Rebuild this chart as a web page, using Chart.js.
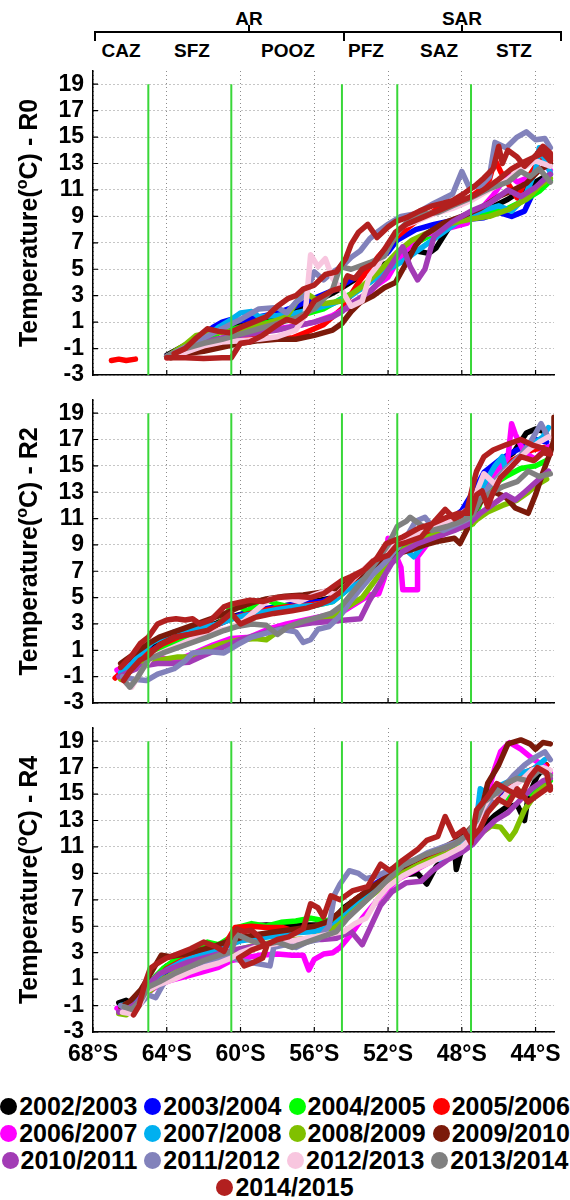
<!DOCTYPE html>
<html>
<head>
<meta charset="utf-8">
<script src="https://cdn.jsdelivr.net/npm/chart.js@4.4.1/dist/chart.umd.min.js"></script>
<style>
body{margin:0;background:#fff;font-family:"Liberation Sans",Arial,sans-serif;font-weight:bold;}
#page{position:relative;width:570px;height:1200px;overflow:hidden;}
canvas{position:absolute;left:0;}
.hl{position:absolute;background:#000;}
.zl{position:absolute;font-size:19px;line-height:19px;transform:translate(-50%,-50%);white-space:nowrap;}
#legend{position:absolute;left:0;top:1093px;width:570px;}
.lrow{display:flex;justify-content:center;height:27px;align-items:center;}
.litem{display:flex;align-items:center;margin:0 3.5px;font-size:25px;line-height:27px;}
.dot{width:17px;height:17px;border-radius:50%;margin-right:2px;}
</style>
</head>
<body>
<div id="page">
  <div class="zl" style="left:249px;top:18px">AR</div>
  <div class="zl" style="left:462px;top:18px">SAR</div>
  <div class="hl" style="left:94px;top:31px;width:468px;height:2px"></div>
  <div class="hl" style="left:94px;top:31px;width:2px;height:10px"></div>
  <div class="hl" style="left:343px;top:31px;width:2px;height:10px"></div>
  <div class="hl" style="left:560px;top:31px;width:2px;height:10px"></div>
  <div class="hl" style="left:248px;top:25px;width:2px;height:7px"></div>
  <div class="hl" style="left:461px;top:25px;width:2px;height:7px"></div>
  <div class="zl" style="left:121px;top:50px">CAZ</div>
  <div class="zl" style="left:192px;top:50px">SFZ</div>
  <div class="zl" style="left:288px;top:50px">POOZ</div>
  <div class="zl" style="left:366px;top:50px">PFZ</div>
  <div class="zl" style="left:439px;top:50px">SAZ</div>
  <div class="zl" style="left:514px;top:50px">STZ</div>

  <canvas id="c0" width="570" height="352" style="top:47px"></canvas>
  <canvas id="c2" width="570" height="351" style="top:376px"></canvas>
  <canvas id="c4" width="570" height="365" style="top:704px"></canvas>
  <div id="legend"></div>
</div>
<script>
const years = ["2002/2003","2003/2004","2004/2005","2005/2006","2006/2007","2007/2008","2008/2009",
"2009/2010","2010/2011","2011/2012","2012/2013","2013/2014","2014/2015"];
const colors = ["#000000","#0000ff","#00ff00","#ff0000","#ff00ff","#00b0f0","#80c000",
"#7b1a0a","#a23bb5","#8282bb","#f8c6df","#808080","#b2201f"];
const zoneLats = [65.0, 60.5, 54.5, 51.5, 47.5];
const xTicks = [44,48,52,56,60,64,68];
const yTicks = [-3,-1,1,3,5,7,9,11,13,15,17,19];

// R0 : [latitude S, temperature]
const r0_0203 = [[64.0,-1.5],[63.2,-0.9],[62.4,-0.3],[61.8,0.3],[61.0,0.6],[60.2,0.8],[59.0,1.2],[58.0,1.5],[57.0,1.8],[56.0,2.5],[55.0,3.2],[54.5,3.6],[53.5,4.5],[52.5,5.2],[51.5,5.8],[50.5,6.4],[49.8,6.2],[49.4,6.6],[48.5,8.6],[47.5,9.0],[46.5,9.6],[45.5,10.3],[44.5,11.2],[43.5,12.0]];
const r0_0304 = [[64.0,-1.6],[63.0,-0.8],[62.2,-0.1],[61.5,0.6],[61.0,1.0],[60.5,1.2],[60.0,1.1],[59.0,1.4],[58.0,1.7],[57.0,2.2],[56.0,2.8],[55.0,3.4],[54.0,4.2],[53.0,5.0],[52.0,6.3],[51.5,7.2],[50.5,8.0],[49.5,8.4],[48.5,8.7],[47.5,8.8],[46.8,8.9],[46.0,9.3],[45.3,9.0],[44.6,9.4],[44.2,10.6],[43.7,11.6],[43.2,12.2]];
const r0_0405 = [[63.9,-1.6],[63.2,-1.2],[62.5,-0.6],[61.8,-0.2],[61.0,0.3],[60.3,0.5],[59.5,0.8],[58.5,1.0],[57.5,1.3],[56.5,1.6],[55.5,2.0],[54.5,2.8],[53.5,3.5],[52.5,4.5],[51.8,5.4],[51.2,6.4],[50.5,7.0],[49.5,7.7],[48.5,8.3],[47.5,8.9],[46.5,9.3],[45.5,9.6],[44.5,10.3],[43.8,10.9],[43.2,11.7]];
const r0_0506 = [[67.0,-1.9],[66.6,-1.8],[66.2,-1.9],[65.7,-1.8],[65.5,null],[64.0,-1.7],[63.0,-1.3],[62.0,-1.0],[61.0,-0.6],[60.0,-0.3],[59.0,-0.2],[58.0,-0.2],[57.2,-0.2],[56.5,0.2],[55.5,0.8],[54.5,2.0],[53.5,4.2],[52.5,6.0],[51.5,7.5],[50.5,8.6],[49.5,9.4],[49.0,9.9],[48.0,10.0],[47.2,10.8],[46.5,11.8],[46.2,13.3],[45.9,12.4],[45.5,11.5],[45.0,10.4],[44.6,11.5],[44.0,12.8],[43.5,13.5],[43.2,13.2]];
const r0_0607 = [[64.0,-1.6],[63.0,-1.2],[62.0,-0.7],[61.0,-0.2],[60.0,0.0],[59.0,0.3],[58.0,0.5],[57.0,0.7],[56.0,1.0],[55.0,1.5],[54.3,2.0],[53.6,2.4],[53.2,3.0],[52.6,3.8],[52.0,4.4],[51.5,5.6],[50.8,6.8],[50.0,7.6],[49.0,8.0],[48.2,8.3],[47.7,8.5],[47.0,9.5],[46.3,10.6],[45.5,12.2],[45.0,11.6],[44.3,12.0],[43.5,12.8],[43.2,12.5]];
const r0_0708 = [[64.0,-1.6],[63.0,-1.0],[62.0,-0.3],[61.2,0.6],[60.5,1.2],[60.0,1.7],[59.4,1.8],[59.0,1.4],[58.0,1.5],[57.0,1.7],[56.0,2.0],[55.0,2.4],[54.0,3.0],[53.0,4.0],[52.0,5.0],[51.2,5.6],[50.5,6.3],[49.8,7.0],[49.0,7.8],[48.0,8.8],[47.0,9.4],[46.0,9.8],[45.3,9.4],[44.6,10.4],[44.0,12.5],[43.8,14.2],[43.4,13.0],[43.2,12.3]];
const r0_0809 = [[64.0,-1.6],[63.0,-0.7],[62.4,0.0],[61.5,0.2],[60.5,0.3],[59.5,0.6],[58.5,0.9],[57.5,1.4],[56.6,3.3],[56.0,2.8],[55.5,2.4],[54.5,2.6],[53.5,3.6],[52.5,4.8],[51.5,6.3],[50.7,7.2],[49.5,8.0],[48.5,8.5],[47.5,8.8],[46.5,9.0],[45.5,9.5],[44.5,10.3],[43.8,11.3],[43.2,11.9]];
const r0_0910 = [[63.8,-1.7],[63.0,-1.4],[62.0,-1.2],[61.0,-0.9],[60.0,-0.6],[59.0,-0.4],[58.0,-0.3],[57.0,-0.3],[56.0,0.0],[55.0,0.4],[54.5,0.9],[54.0,1.8],[53.5,2.5],[52.8,3.0],[52.2,3.6],[51.6,4.0],[51.0,5.5],[50.5,6.8],[50.0,7.6],[49.0,8.5],[48.0,9.0],[47.0,9.6],[46.0,10.5],[45.2,11.0],[44.5,11.5],[43.8,12.5],[43.2,13.0]];
const r0_1011 = [[64.0,-1.6],[63.0,-1.0],[62.0,-0.5],[61.0,-0.2],[60.0,0.0],[59.0,0.2],[58.0,0.4],[57.0,0.7],[56.0,1.0],[55.0,1.4],[54.5,1.8],[53.8,2.6],[53.0,3.3],[52.3,4.3],[51.6,5.8],[51.2,6.7],[50.8,5.2],[50.4,4.2],[50.0,5.0],[49.5,7.5],[48.5,8.6],[47.5,9.4],[46.5,10.0],[45.5,11.0],[44.8,10.5],[44.0,11.2],[43.2,12.2]];
const r0_1112 = [[64.0,-1.6],[63.0,-0.9],[62.0,-0.2],[61.0,0.5],[60.0,1.2],[59.0,2.0],[58.0,2.1],[57.5,1.7],[57.0,2.5],[56.5,3.0],[56.0,4.8],[55.5,4.2],[55.0,4.8],[54.5,5.2],[54.0,5.9],[53.5,6.4],[53.0,7.3],[52.5,7.9],[52.0,8.4],[51.3,9.0],[50.5,9.2],[49.5,10.0],[48.5,10.7],[48.0,12.4],[47.6,11.2],[47.0,11.3],[46.5,12.0],[46.2,14.6],[45.6,14.2],[45.0,15.0],[44.5,15.4],[44.0,14.8],[43.5,14.9],[43.2,14.2]];
const r0_1213 = [[64.0,-1.7],[63.0,-1.3],[62.0,-0.8],[61.0,-0.5],[60.0,-0.4],[59.0,-0.3],[58.0,-0.1],[57.0,0.4],[56.5,1.5],[56.2,6.1],[55.8,5.2],[55.4,5.8],[55.0,4.3],[54.5,3.4],[54.0,2.2],[53.4,2.6],[53.0,4.5],[52.5,5.4],[52.0,6.8],[51.3,8.2],[50.5,8.6],[49.5,9.2],[48.5,9.6],[47.5,10.2],[46.5,11.0],[45.5,11.8],[44.8,12.6],[44.0,13.2],[43.2,12.8]];
const r0_1314 = [[64.0,-1.6],[63.0,-1.0],[62.0,-0.6],[61.0,-0.3],[60.0,0.1],[59.0,0.5],[58.0,0.9],[57.0,1.3],[56.0,2.0],[55.0,3.5],[54.6,5.2],[54.0,5.0],[53.0,5.5],[52.2,6.0],[51.5,7.8],[50.8,8.8],[50.0,9.2],[49.3,9.3],[48.5,9.8],[47.5,10.4],[46.5,11.1],[45.5,11.6],[44.8,12.4],[44.3,12.0],[43.8,12.6],[43.2,11.6]];
const r0_1415 = [[64.0,-1.7],[63.0,-1.7],[62.0,-1.75],[61.0,-1.7],[60.5,-1.7],[60.0,-0.6],[59.5,-0.5],[58.8,0.0],[58.0,0.8],[57.5,1.2],[57.0,1.0],[56.5,1.5],[56.0,2.6],[55.5,3.0],[55.0,3.4],[54.5,3.6],[54.2,4.5],[53.8,4.3],[53.4,5.0],[52.8,5.4],[52.2,6.5],[51.6,7.8],[51.0,8.4],[50.0,9.0],[49.0,9.6],[48.0,10.2],[47.3,10.6],[46.6,11.2],[46.0,11.8],[45.3,12.6],[44.8,13.0],[44.2,13.4],[43.6,13.8],[43.2,13.2],
  [43.2,13.8],[43.6,14.3],[44.0,13.6],[44.6,12.8],[45.0,13.5],[45.5,14.0],[45.8,13.0],[46.0,14.3],[46.3,12.6],[46.8,11.9],[47.3,11.3],[47.8,10.8],[48.5,10.2],[49.0,10.0],[49.6,9.8],[50.3,9.4],[51.0,8.9],[51.6,8.6],[52.0,8.2],[52.6,7.4],[53.1,8.4],[53.6,7.8],[54.0,6.9],[54.3,5.8],[54.8,4.8],[55.4,4.6],[56.0,3.8],[56.6,3.5],[57.0,3.0],[57.4,2.8],[58.0,2.2],[58.6,1.4],[59.3,1.0],[60.0,0.6],[60.6,0.2],[61.2,0.3],[61.8,0.5],[62.4,-0.2],[63.0,-1.0],[63.6,-1.4]];

// R2
const r2_0203 = [[66.6,-0.6],[66.2,-0.1],[65.6,0.6],[65.0,1.2],[64.4,1.8],[63.8,2.1],[63.0,2.4],[62.2,2.7],[61.4,3.0],[60.6,3.5],[59.8,3.8],[59.0,4.0],[58.0,4.3],[57.0,4.5],[56.0,4.7],[55.0,5.0],[54.2,5.8],[53.4,6.8],[52.6,7.8],[51.8,8.8],[51.0,9.5],[50.0,10.2],[49.0,10.7],[48.0,11.2],[47.3,12.0],[46.8,14.0],[46.0,15.2],[45.2,16.0],[44.5,17.5],[44.0,17.8],[43.5,17.6]];
const r2_0304 = [[66.5,-0.9],[66.0,-0.3],[65.3,0.5],[64.6,1.2],[63.8,1.8],[63.0,2.2],[62.0,2.6],[61.0,3.1],[60.2,3.6],[59.4,4.0],[58.5,4.2],[57.5,4.4],[56.5,4.6],[55.6,4.7],[54.8,5.1],[54.0,6.0],[53.2,6.9],[52.4,7.9],[51.6,8.7],[50.8,9.4],[49.8,10.0],[48.8,10.7],[48.0,11.6],[47.7,12.3],[47.3,13.2],[46.8,14.5],[46.0,15.4],[45.3,16.0],[44.6,16.5],[44.0,17.0],[43.4,16.8]];
const r2_0405 = [[66.5,-1.0],[66.0,-0.4],[65.3,0.3],[64.6,0.9],[63.8,1.4],[63.0,1.8],[62.2,2.2],[61.4,2.8],[60.8,3.5],[60.5,4.5],[60.2,4.4],[59.6,4.0],[59.1,4.6],[58.5,4.8],[58.0,4.5],[57.0,4.2],[56.0,4.4],[55.0,4.7],[54.3,5.5],[53.5,6.4],[52.7,7.5],[51.8,8.6],[51.0,9.2],[50.0,9.8],[49.0,10.3],[48.0,10.8],[47.4,10.6],[47.0,12.2],[46.4,13.5],[45.6,14.2],[44.8,14.8],[44.0,15.0],[43.4,15.4]];
const r2_0506 = [[66.8,-1.1],[66.4,-0.6],[65.8,0.0],[65.0,0.8],[64.2,1.5],[63.4,2.0],[62.5,2.4],[61.5,2.8],[60.5,3.4],[59.5,3.8],[58.5,4.1],[57.5,4.3],[56.5,4.4],[55.5,4.6],[54.6,5.4],[53.8,6.4],[53.0,7.2],[52.2,8.3],[51.4,9.0],[50.6,9.6],[49.6,10.2],[48.6,10.8],[47.8,11.3],[47.2,12.8],[46.6,14.2],[45.8,15.0],[45.0,15.6],[44.2,16.2],[43.5,16.4]];
const r2_0607 = [[66.7,-0.5],[66.2,-0.2],[65.5,0.1],[64.5,0.5],[63.5,0.2],[62.5,0.8],[61.5,1.4],[60.5,1.9],[59.5,2.0],[58.5,2.6],[57.5,3.0],[56.5,3.3],[55.5,3.6],[54.5,3.9],[53.8,4.5],[53.0,5.2],[52.5,5.3],[52.2,6.5],[52.0,9.5],[51.7,8.6],[51.3,7.3],[51.2,5.6],[50.4,5.6],[50.4,8.1],[49.8,9.2],[49.0,9.8],[48.0,10.5],[47.3,11.8],[46.8,13.5],[46.0,14.8],[45.5,15.6],[45.3,18.2],[45.1,17.4],[44.6,16.0],[44.0,15.5],[43.5,16.3],[43.2,16.5]];
const r2_0708 = [[66.5,-0.7],[66.0,-0.2],[65.4,0.8],[64.8,1.6],[64.2,2.0],[63.6,2.4],[62.8,2.6],[62.0,2.8],[61.2,3.0],[60.4,3.4],[59.6,3.7],[58.8,3.9],[58.0,4.1],[57.0,4.3],[56.0,4.4],[55.0,4.7],[54.2,5.6],[53.4,6.3],[52.6,7.3],[51.8,8.3],[51.0,8.6],[50.6,8.1],[50.0,9.2],[49.0,10.0],[48.0,10.6],[47.4,11.8],[46.8,13.6],[46.2,15.0],[45.8,15.7],[45.6,14.6],[45.0,15.4],[44.2,16.6],[43.6,17.2],[43.3,17.9]];
const r2_0809 = [[66.5,-1.2],[66.0,-0.6],[65.2,0.0],[64.2,0.3],[63.4,0.5],[62.7,0.5],[62.0,1.0],[61.0,1.5],[60.0,1.8],[59.2,1.9],[58.6,1.8],[58.0,2.4],[57.0,2.9],[56.0,3.3],[55.0,3.6],[54.2,4.3],[53.4,5.0],[52.6,6.5],[52.0,7.8],[51.2,8.6],[50.4,9.3],[49.4,9.8],[48.4,10.2],[47.6,10.4],[47.2,10.9],[46.6,11.5],[45.8,12.0],[45.0,12.4],[44.4,13.0],[44.0,13.5],[43.4,14.0]];
const r2_0910 = [[66.5,0.0],[66.2,0.3],[65.6,0.9],[65.0,1.5],[64.4,2.0],[63.6,2.4],[62.8,2.8],[62.0,3.2],[61.0,3.7],[60.2,4.2],[59.4,4.6],[58.6,4.9],[57.6,5.1],[56.6,5.2],[55.6,5.4],[54.8,5.7],[54.0,6.3],[53.2,7.0],[52.4,7.8],[51.6,8.3],[50.8,8.6],[50.0,9.0],[49.2,9.3],[48.4,9.5],[48.1,9.1],[47.6,10.5],[47.2,11.8],[46.8,12.6],[46.2,13.0],[45.6,12.6],[45.1,11.8],[44.4,11.4],[44.0,12.8],[43.6,14.5],[43.2,16.0],[43.0,17.0],[43.0,18.7]];
const r2_1011 = [[66.6,-1.0],[66.0,-0.6],[65.3,-0.2],[64.5,0.0],[63.8,0.0],[62.8,0.1],[62.0,0.6],[61.0,1.2],[60.0,1.8],[59.0,2.2],[58.0,2.6],[57.0,2.9],[56.0,3.1],[55.0,3.2],[54.3,3.3],[53.5,3.4],[53.0,4.8],[52.4,6.2],[51.8,7.6],[51.2,8.5],[50.4,9.1],[49.4,9.6],[48.4,10.1],[47.6,10.6],[47.0,11.4],[46.4,12.0],[45.6,12.8],[45.1,12.4],[44.6,13.0],[43.8,14.0],[43.3,14.6]];
const r2_1112 = [[66.4,-1.0],[65.8,-1.2],[65.1,-1.3],[64.5,-0.8],[63.6,-0.4],[63.0,0.2],[62.6,0.8],[61.8,0.9],[60.9,0.8],[60.2,1.4],[59.4,2.0],[58.6,2.3],[57.8,2.6],[57.0,2.4],[56.6,1.6],[56.2,1.8],[55.8,2.6],[55.2,2.8],[54.6,3.6],[54.0,4.8],[53.4,5.8],[52.8,6.8],[52.2,7.6],[51.6,8.6],[51.0,9.6],[50.5,10.8],[50.0,11.1],[49.6,10.4],[49.0,10.1],[48.2,10.6],[47.6,11.0],[47.0,12.6],[46.4,13.6],[45.6,14.8],[44.8,15.8],[44.2,17.0],[43.7,18.2],[43.4,17.4]];
const r2_1213 = [[66.2,-1.5],[65.9,-1.8],[65.4,-0.6],[64.8,0.5],[64.0,1.0],[63.2,1.5],[62.4,2.0],[61.6,2.4],[60.8,2.6],[60.0,3.0],[59.2,4.0],[58.4,4.9],[57.6,5.0],[56.8,4.7],[56.0,5.2],[55.4,5.5],[54.8,5.2],[54.2,6.0],[53.6,6.8],[52.8,7.8],[52.0,8.6],[51.2,9.4],[50.6,9.7],[49.8,10.2],[49.0,10.6],[48.2,11.2],[47.6,11.8],[47.2,13.0],[46.8,14.4],[46.2,13.6],[45.6,14.6],[45.0,15.4],[44.4,16.2],[43.8,16.8],[43.3,17.2]];
const r2_1314 = [[66.3,-1.3],[66.0,-1.8],[65.6,-1.1],[65.0,0.3],[64.2,0.8],[63.4,1.2],[62.6,1.6],[61.8,2.0],[60.9,2.5],[60.2,2.8],[59.4,3.0],[58.6,2.9],[58.0,2.2],[57.4,2.8],[56.6,3.2],[55.8,3.5],[55.1,3.8],[54.5,4.4],[53.8,5.6],[53.2,6.6],[52.6,7.8],[52.0,9.0],[51.5,10.4],[51.0,10.8],[50.8,11.1],[50.2,10.5],[49.6,10.1],[48.8,10.4],[48.0,10.8],[47.4,11.3],[47.0,12.4],[46.4,13.0],[45.8,13.4],[45.0,13.8],[44.4,14.6],[43.8,14.2],[43.2,14.4]];
const r2_1415 = [[66.5,-0.3],[65.9,0.6],[65.45,1.5],[65.0,2.0],[64.5,3.0],[64.0,3.3],[63.5,3.4],[63.0,3.3],[62.6,3.4],[62.2,3.0],[61.6,3.3],[60.9,4.3],[60.5,4.5],[59.5,4.8],[58.8,4.7],[58.0,5.0],[57.0,5.1],[56.2,5.0],[55.5,5.3],[55.0,5.8],[54.5,6.3],[54.0,6.6],[53.3,7.1],[52.8,7.8],[52.0,8.2],[51.5,9.0],[51.0,9.2],[50.2,9.6],[49.6,10.6],[48.9,11.7],[48.4,11.0],[48.0,11.3],[47.7,11.7],[47.4,13.5],[47.2,14.6],[46.8,15.7],[46.3,16.2],[45.6,16.6],[44.8,17.0],[44.2,16.6],[43.3,16.2],
  [43.2,15.9],[43.6,16.0],[44.1,15.4],[44.8,15.7],[45.4,14.8],[45.9,14.1],[46.3,13.0],[46.6,11.9],[46.9,13.1],[47.2,12.8],[47.5,11.4],[48.2,11.4],[48.8,11.1],[49.6,10.6],[50.3,10.3],[51.2,9.6],[52.1,9.1],[52.6,8.0],[53.2,7.2],[53.9,6.5],[54.6,5.4],[55.2,4.8],[55.7,4.5],[56.4,4.2],[57.2,4.0],[58.2,3.8],[59.2,3.5],[60.0,3.0],[60.5,3.8],[61.2,3.0],[61.8,2.5],[62.8,2.2],[63.6,2.0],[64.4,1.4],[65.0,0.6],[65.45,0.25],[66.0,-0.6],[66.35,-1.3]];

// R4
const r4_0203 = [[66.6,-0.8],[66.2,-0.6],[65.7,-1.0],[65.2,-0.2],[64.6,1.2],[64.0,2.0],[63.2,2.5],[62.4,2.8],[61.6,3.2],[60.8,3.8],[60.2,4.6],[59.6,5.0],[58.6,5.1],[57.6,5.0],[56.6,5.1],[55.6,5.1],[55.0,5.5],[54.4,6.4],[53.6,7.2],[52.8,7.8],[52.0,8.4],[51.2,8.9],[50.4,9.0],[49.9,8.2],[49.4,9.5],[48.8,10.4],[48.4,11.0],[48.3,9.3],[48.0,10.8],[47.4,11.6],[46.8,12.6],[46.2,13.4],[45.6,14.0],[45.0,14.2],[44.6,13.0],[44.4,14.8],[43.9,16.4],[43.4,17.2]];
const r4_0304 = [[66.5,-1.2],[66.0,-1.0],[65.4,-0.4],[64.8,0.8],[64.0,1.6],[63.2,2.2],[62.4,2.6],[61.6,3.0],[60.8,3.5],[60.0,4.0],[59.0,4.3],[58.0,4.5],[57.0,4.7],[56.0,4.8],[55.0,5.2],[54.2,6.4],[53.4,7.4],[52.6,8.3],[51.8,9.0],[51.0,9.6],[50.2,10.0],[49.4,10.4],[48.6,10.9],[47.8,11.6],[47.2,12.6],[46.6,13.8],[46.0,15.0],[45.4,15.6],[44.8,16.2],[44.2,16.6],[43.5,17.0]];
const r4_0405 = [[66.6,-1.4],[66.2,-1.2],[65.6,-0.6],[65.0,0.6],[64.2,1.8],[63.4,2.6],[62.6,3.2],[61.8,3.8],[61.2,3.6],[60.5,4.2],[60.2,4.9],[59.4,5.2],[58.6,5.0],[57.8,5.3],[57.0,5.4],[56.2,5.6],[55.4,5.4],[54.8,5.6],[54.2,6.2],[53.4,7.0],[52.6,7.9],[51.8,8.8],[51.0,9.4],[50.2,10.0],[49.4,10.5],[48.6,11.0],[47.8,11.6],[47.2,12.8],[46.6,13.8],[46.0,14.5],[45.4,14.8],[44.8,15.2],[44.2,15.0],[43.6,15.6],[43.2,16.0]];
const r4_0506 = [[66.5,-1.3],[66.0,-1.1],[65.4,-0.6],[64.8,0.6],[64.0,1.8],[63.2,2.4],[62.4,2.8],[61.6,3.2],[60.8,3.7],[60.3,4.9],[59.4,5.0],[58.6,4.9],[57.7,4.9],[57.0,4.6],[56.2,4.8],[55.4,5.2],[54.6,6.0],[53.8,7.0],[53.0,7.8],[52.2,8.6],[51.4,9.3],[50.6,9.9],[49.8,10.4],[49.0,10.9],[48.2,11.4],[47.6,12.0],[47.0,13.2],[46.4,14.4],[45.8,15.4],[45.2,16.0],[44.6,16.6],[44.0,17.0],[43.4,17.2]];
const r4_0607 = [[66.7,-1.2],[66.2,-1.4],[65.6,-1.0],[65.0,0.0],[64.4,0.6],[63.8,0.9],[63.0,1.2],[62.2,1.5],[61.2,1.9],[60.5,2.4],[59.8,2.6],[59.0,2.8],[58.0,2.9],[57.2,2.8],[56.6,2.8],[56.3,1.7],[56.0,2.5],[55.5,2.9],[55.0,3.0],[54.6,3.4],[54.0,4.4],[53.4,5.6],[52.8,6.6],[52.2,7.6],[51.4,8.6],[50.6,9.2],[49.8,9.8],[49.0,10.4],[48.2,11.0],[47.6,11.8],[47.0,13.4],[46.6,15.0],[46.2,17.0],[45.9,18.2],[45.4,18.9],[44.8,18.4],[44.1,17.6],[43.6,17.2],[43.2,16.6]];
const r4_0708 = [[66.5,-1.0],[66.0,-0.8],[65.4,-0.2],[64.8,0.9],[64.0,1.7],[63.2,2.3],[62.4,2.7],[61.6,3.1],[60.8,3.5],[60.0,3.9],[59.0,4.1],[58.0,4.3],[57.0,4.5],[56.0,4.6],[55.0,5.0],[54.2,6.0],[53.4,7.0],[52.6,7.9],[51.8,8.6],[51.0,9.2],[50.2,9.6],[49.4,10.1],[49.0,10.0],[48.4,10.8],[47.8,11.6],[47.2,13.0],[47.0,15.4],[46.6,15.0],[46.0,15.6],[45.4,16.0],[44.8,16.6],[44.2,16.8],[43.5,17.6]];
const r4_0809 = [[66.6,-1.6],[66.2,-1.7],[65.6,-1.0],[65.0,0.0],[64.2,1.0],[63.4,1.6],[62.6,2.0],[61.8,2.4],[61.0,2.8],[60.2,3.2],[59.4,3.5],[58.6,3.7],[57.8,3.9],[57.0,4.0],[56.2,4.1],[55.4,4.4],[54.6,5.2],[53.8,6.2],[53.0,7.2],[52.2,8.1],[51.4,8.9],[50.6,9.5],[49.8,10.0],[49.0,10.4],[48.2,10.9],[47.6,11.3],[47.0,12.0],[46.4,12.6],[45.9,12.5],[45.4,11.6],[45.1,12.2],[44.6,13.8],[44.0,15.0],[43.5,15.6],[43.2,15.4]];
const r4_0910 = [[66.5,-1.1],[66.0,-0.7],[65.4,0.2],[64.8,1.6],[64.3,2.8],[63.8,2.7],[63.0,2.9],[62.2,3.2],[61.4,3.5],[60.6,3.9],[59.8,4.2],[59.0,4.4],[58.0,4.6],[57.0,4.8],[56.0,5.0],[55.2,5.4],[54.4,6.3],[53.6,7.2],[52.8,8.0],[52.0,8.8],[51.2,9.5],[50.4,10.1],[49.6,10.6],[48.8,11.1],[48.0,11.7],[47.4,12.6],[46.9,14.0],[46.6,15.8],[46.0,17.2],[45.5,18.8],[44.8,19.1],[44.3,18.8],[44.0,18.4],[43.6,18.9],[43.2,18.8]];
const r4_1011 = [[66.6,-1.5],[66.2,-1.3],[65.6,-0.8],[65.0,0.6],[64.4,1.4],[63.6,1.9],[62.8,2.3],[62.0,2.6],[61.2,2.9],[60.4,3.2],[59.6,3.4],[58.8,3.6],[58.0,3.8],[57.2,3.9],[56.4,4.0],[55.6,4.0],[54.8,4.1],[54.0,4.6],[53.4,3.6],[53.0,4.8],[52.4,6.6],[51.8,7.6],[51.0,8.3],[50.2,8.4],[49.6,9.2],[48.8,10.0],[48.0,10.6],[47.4,11.2],[46.8,12.2],[46.2,13.0],[45.5,13.6],[44.8,14.6],[44.2,15.4],[43.6,16.0],[43.2,16.2]];
const r4_1112 = [[66.5,-1.0],[66.0,-1.4],[65.5,-1.0],[65.0,-0.2],[64.6,-0.4],[64.2,0.6],[63.6,1.4],[62.8,1.8],[62.0,2.1],[61.2,2.4],[60.6,2.7],[60.0,2.4],[59.2,2.2],[58.4,2.0],[58.2,3.4],[57.6,3.6],[57.0,3.4],[56.4,3.8],[55.8,4.0],[55.2,5.0],[54.9,7.4],[54.6,8.2],[54.1,9.2],[53.6,9.0],[53.2,8.6],[52.6,8.8],[52.0,9.2],[51.4,9.6],[50.6,10.0],[49.8,10.6],[49.0,11.0],[48.2,11.4],[47.6,12.0],[47.0,13.4],[46.4,14.6],[45.8,15.4],[45.2,16.4],[44.6,17.2],[44.0,17.8],[43.5,18.2],[43.2,17.6]];
const r4_1213 = [[66.4,-1.5],[66.0,-1.6],[65.4,-0.8],[65.1,0.1],[64.4,0.6],[63.6,1.0],[62.8,1.5],[62.0,1.9],[61.2,2.2],[60.5,2.6],[60.0,3.0],[59.2,3.4],[58.4,3.6],[57.6,3.8],[56.8,4.0],[56.0,4.2],[55.2,4.4],[54.4,4.6],[53.8,5.2],[53.2,5.6],[52.6,7.0],[52.0,8.0],[51.2,8.8],[50.4,9.4],[49.6,9.9],[48.8,10.4],[48.0,11.0],[47.4,11.8],[46.9,13.8],[46.4,15.0],[45.9,14.4],[45.4,15.4],[44.8,16.0],[44.2,16.8],[43.6,17.0],[43.2,16.8]];
const r4_1314 = [[66.3,-1.1],[65.9,-1.3],[65.4,-0.6],[65.0,0.4],[64.4,0.8],[63.6,1.4],[62.8,1.9],[62.0,2.4],[61.2,2.8],[60.5,3.1],[60.2,4.4],[59.6,4.0],[58.8,3.6],[58.0,3.8],[57.2,3.4],[56.4,3.8],[55.6,4.2],[54.8,4.6],[54.2,5.6],[53.6,6.4],[53.0,7.2],[52.4,8.0],[51.8,8.8],[51.2,9.6],[50.6,10.0],[50.0,10.4],[49.2,10.8],[48.4,11.2],[47.8,11.8],[47.2,13.0],[46.8,14.4],[46.2,15.0],[45.6,15.8],[45.0,16.2],[44.4,16.0],[43.8,16.8],[43.2,16.4]];
const r4_1415 = [[65.8,-1.7],[65.5,-1.0],[65.2,0.6],[64.9,1.8],[64.5,2.2],[64.0,2.6],[63.6,2.8],[62.7,3.3],[62.0,3.8],[61.4,3.5],[60.9,3.1],[60.5,4.3],[60.2,4.8],[59.8,4.6],[59.4,4.7],[59.0,4.2],[58.6,3.4],[58.8,2.6],[59.4,2.2],[59.8,2.0],[60.1,2.6],[59.4,3.2],[58.6,3.6],[58.0,4.0],[57.4,4.2],[57.0,4.5],[56.6,4.8],[56.2,6.7],[55.8,6.4],[55.5,5.7],[55.1,7.3],[54.6,7.0],[53.9,7.7],[53.1,8.0],[52.4,9.7],[51.9,9.2],[51.2,10.0],[50.4,10.8],[49.9,11.5],[49.3,11.8],[48.9,13.3],[48.4,11.8],[47.9,12.3],[47.5,11.3],[47.2,13.8],[46.6,14.8],[46.1,15.8],[45.5,15.3],[44.8,14.8],[44.3,16.3],[43.9,17.0],[43.4,16.6],[43.2,15.3],
  [43.2,15.6],[43.8,15.0],[44.4,14.4],[45.0,15.4],[45.5,14.2],[46.0,14.6],[46.6,13.6],[47.0,12.4],[47.5,11.6]];

const r0Series = [r0_0203,r0_0304,r0_0405,r0_0506,r0_0607,r0_0708,r0_0809,r0_0910,r0_1011,r0_1112,r0_1213,r0_1314,r0_1415];
const r2Series = [r2_0203,r2_0304,r2_0405,r2_0506,r2_0607,r2_0708,r2_0809,r2_0910,r2_1011,r2_1112,r2_1213,r2_1314,r2_1415];
const r4Series = [r4_0203,r4_0304,r4_0405,r4_0506,r4_0607,r4_0708,r4_0809,r4_0910,r4_1011,r4_1112,r4_1213,r4_1314,r4_1415];

const FONT = '"Liberation Sans", Arial, sans-serif';

// rotated y title with superscript o
const yTitle = {
id:"yTitle",
afterDraw(chart, args, opts) {
  const {ctx, chartArea} = chart;
  const cy = (chartArea.top + chartArea.bottom) / 2;
  const big = "bold 25px " + FONT, small = "bold 16px " + FONT;
  const parts = [["Temperature(", big, 0], ["o", small, -10], ["C) - " + opts.text, big, 0]];
  ctx.save();
  let total = 0;
  parts.forEach(p => { ctx.font = p[1]; total += ctx.measureText(p[0]).width; });
  ctx.translate(37, cy);
  ctx.rotate(-Math.PI / 2);
  ctx.fillStyle = "#000";
  ctx.textBaseline = "alphabetic";
  let x = -total / 2;
  parts.forEach(p => { ctx.font = p[1]; ctx.fillText(p[0], x, p[2]); x += ctx.measureText(p[0]).width; });
  ctx.restore();
}
};

// small inward tick marks
const inTicks = {
id:"inTicks",
beforeDatasetsDraw(chart) {
  const {ctx, chartArea, scales} = chart;
  ctx.save();
  ctx.strokeStyle = "#000";
  ctx.lineWidth = 1.2;
  ctx.beginPath();
  xTicks.forEach(v => {
    const px = scales.x.getPixelForValue(v);
    ctx.moveTo(px, chartArea.bottom); ctx.lineTo(px, chartArea.bottom - 5);
  });
  yTicks.forEach(v => {
    const py = scales.y.getPixelForValue(v);
    ctx.moveTo(chartArea.left, py); ctx.lineTo(chartArea.left + 5, py);
  });
  ctx.stroke();
  ctx.restore();
}
};

function panel(id, series, name, showX) {
  const datasets = series.map((d, i) => ({
    label: years[i],
    data: d,
    borderColor: colors[i],
    backgroundColor: colors[i],
    borderWidth: 5.5,
    pointRadius: 0,
    tension: 0,
    borderJoinStyle: "round",
    borderCapStyle: "round",
    spanGaps: false,
    order: series.length - i
  }));
  zoneLats.forEach(lat => {
    datasets.push({data: [[lat, -3], [lat, 19]], borderColor: "#39d739", borderWidth: 2, pointRadius: 0, order: 0});
  });
  return new Chart(document.getElementById(id), {
    type: "line",
    data: {datasets},
    options: {
      responsive: false,
      animation: false,
      events: [],
      layout: {padding: {top: 24, right: 16, bottom: showX ? 0 : 24, left: 0}},
      plugins: {legend: {display: false}, tooltip: {enabled: false}, yTitle: {text: name}},
      scales: {
        x: {
          type: "linear", reverse: true, min: 43, max: 68,
          afterBuildTicks: s => { s.ticks = xTicks.map(v => ({value: v})); },
          afterFit: s => { s.height = showX ? 37 : 0; },
          grid: {color: "#8c8c8c", lineWidth: 1, drawTicks: false},
          border: {color: "#000", width: 1.5, dash: [1, 3]},
          ticks: {display: showX, padding: 9, color: "#000", autoSkip: false, maxRotation: 0,
                  font: {size: 23, weight: "bold", family: FONT},
                  callback: v => v + "°S"}
        },
        y: {
          min: -3, max: 20,
          afterBuildTicks: s => { s.ticks = yTicks.map(v => ({value: v})); },
          afterFit: s => { s.width = 93; },
          grid: {color: "#8c8c8c", lineWidth: 1, drawTicks: false},
          border: {color: "#000", width: 1.5, dash: [1, 3]},
          ticks: {padding: 9, color: "#000", autoSkip: false,
                  font: {size: 23, weight: "bold", family: FONT, lineHeight: 1}}
        }
      }
    },
    plugins: [yTitle, inTicks]
  });
}

panel("c0", r0Series, "R0", false);
panel("c2", r2Series, "R2", false);
panel("c4", r4Series, "R4", true);

// legend
const legend = document.getElementById("legend");
for (let r = 0; r < years.length; r += 4) {
  const row = document.createElement("div");
  row.className = "lrow";
  years.slice(r, r + 4).forEach((y, k) => {
    const item = document.createElement("div");
    item.className = "litem";
    item.innerHTML = '<span class="dot" style="background:' + colors[r + k] + '"></span>' + y;
    row.appendChild(item);
  });
  legend.appendChild(row);
}
</script>
</body>
</html>
